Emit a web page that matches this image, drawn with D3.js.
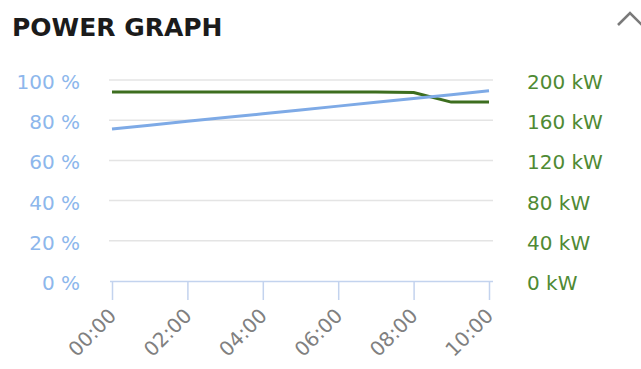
<!DOCTYPE html>
<html>
<head>
<meta charset="utf-8">
<script src="https://cdn.jsdelivr.net/npm/d3@7"></script>
<style>
  html, body { margin: 0; padding: 0; background: #fff; }
  svg { display: block; }
</style>
</head>
<body>
<svg id="chart" width="641" height="369"></svg>
<script>
// Hourly readings, 00:00 – 10:00
const hours = [0, 1, 2, 3, 4, 5, 6, 7, 8, 9, 10];
const chargePct = [75.6, 77.5, 79.5, 81.3, 83.2, 85.1, 87.0, 88.9, 90.8, 92.7, 94.6];
const powerKw = [188, 188, 188, 188, 188, 188, 188, 188, 187.5, 178, 178];
const pctTicks = [0, 20, 40, 60, 80, 100];
const kwTicks = [0, 40, 80, 120, 160, 200];
const title = "POWER GRAPH";

const svg = d3.select("#chart");
const font = "'DejaVu Sans', sans-serif";

const plot = { left: 110, right: 493, top: 80, bottom: 281 };
const day = h => new Date(2024, 0, 1, h, 0, 0);

const x = d3.scaleTime()
  .domain([day(0), day(10)])
  .range([112, 489]);
const yPct = d3.scaleLinear().domain([0, 100]).range([plot.bottom, plot.top]);
const yKw = d3.scaleLinear().domain([0, 200]).range([plot.bottom, plot.top]);

// Title
svg.append("text")
  .attr("x", 12).attr("y", 36)
  .attr("font-family", font)
  .attr("font-weight", "bold")
  .attr("font-size", 25)
  .attr("fill", "#1b1b1b")
  .text(title);

// Collapse chevron
svg.append("path")
  .attr("d", "M618,25 L630,13 L642,25")
  .attr("fill", "none")
  .attr("stroke", "#7a7a7a")
  .attr("stroke-width", 2.6);

// Horizontal gridlines
svg.append("g")
  .selectAll("line")
  .data(pctTicks.filter(d => d > 0))
  .join("line")
  .attr("x1", plot.left - 1).attr("x2", plot.right)
  .attr("y1", d => yPct(d)).attr("y2", d => yPct(d))
  .attr("stroke", "#e4e4e4")
  .attr("stroke-width", 1.5);

// Left axis labels (percent)
svg.append("g")
  .selectAll("text")
  .data(pctTicks)
  .join("text")
  .attr("x", 80)
  .attr("y", d => yPct(d) + 9)
  .attr("text-anchor", "end")
  .attr("font-family", font)
  .attr("font-size", 20)
  .attr("fill", "#8db7ec")
  .text(d => d + " %");

// Right axis labels (kW)
svg.append("g")
  .selectAll("text")
  .data(kwTicks)
  .join("text")
  .attr("x", 527)
  .attr("y", d => yKw(d) + 9)
  .attr("text-anchor", "start")
  .attr("font-family", font)
  .attr("font-size", 20)
  .attr("fill", "#4f8a34")
  .text(d => d + " kW");

// Bottom time axis
const xAxis = d3.axisBottom(x)
  .ticks(d3.timeHour.every(2))
  .tickFormat(d3.timeFormat("%H:%M"))
  .tickSizeInner(19)
  .tickSizeOuter(0);

const gx = svg.append("g")
  .attr("transform", `translate(0,${plot.bottom})`)
  .call(xAxis);

gx.select(".domain")
  .attr("d", `M${plot.left},0.5H${plot.right}`)
  .attr("stroke", "#c3d3ee")
  .attr("stroke-width", 1.5);
gx.selectAll(".tick line")
  .attr("stroke", "#c3d3ee")
  .attr("stroke-width", 1.5);
gx.selectAll(".tick text")
  .attr("font-family", font)
  .attr("font-size", 20)
  .attr("fill", "#808080")
  .attr("text-anchor", "end")
  .attr("dy", null)
  .attr("y", 0)
  .attr("transform", "translate(5,36) rotate(-45)");

// Series lines
const pctLine = d3.line()
  .x((d, i) => x(day(hours[i])))
  .y(d => yPct(d));
const kwLine = d3.line()
  .x((d, i) => x(day(hours[i])))
  .y(d => yKw(d));

svg.append("path")
  .datum(powerKw)
  .attr("d", kwLine)
  .attr("fill", "none")
  .attr("stroke", "#3d6e1f")
  .attr("stroke-width", 3)
  .attr("stroke-linejoin", "round");

svg.append("path")
  .datum(chargePct)
  .attr("d", pctLine)
  .attr("fill", "none")
  .attr("stroke", "#7eaae6")
  .attr("stroke-width", 3)
  .attr("stroke-linejoin", "round");
</script>
</body>
</html>
